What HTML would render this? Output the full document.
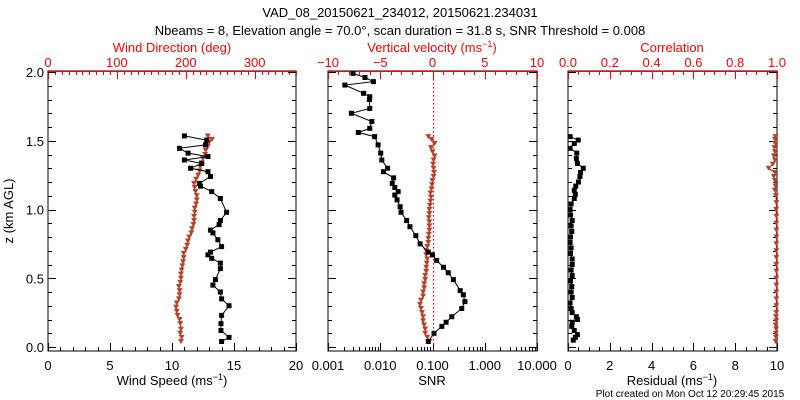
<!DOCTYPE html>
<html><head><meta charset="utf-8"><style>
body{margin:0;background:#fff}
svg{display:block;font-family:"Liberation Sans",sans-serif}
</style></head><body>
<svg id="c" width="800" height="400" viewBox="0 0 800 400">
<text x="400" y="17" text-anchor="middle" font-size="13">VAD_08_20150621_234012, 20150621.234031</text>
<text x="400" y="35" text-anchor="middle" font-size="13">Nbeams = 8, Elevation angle = 70.0°, scan duration = 31.8 s, SNR Threshold = 0.008</text>
<text x="690" y="397" text-anchor="middle" font-size="10">Plot created on Mon Oct 12 20:29:45 2015</text>
</svg>
<script>
// Panel 1: wind speed (black) and wind direction (red)
const speedZ=[0.04,0.07,0.12,0.17,0.23,0.30,0.35,0.40,0.45,0.49,0.57,0.61,0.645,0.67,0.69,0.73,0.78,0.83,0.85,0.89,0.92,0.98,1.08,1.13,1.17,1.19,1.24,1.275,1.30,1.335,1.36,1.385,1.41,1.445,1.47,1.505,1.535];
const speedVals=[14.0,14.6,13.95,13.95,14.0,14.6,14.0,13.9,13.3,13.5,13.9,13.9,13.2,12.9,13.1,14.0,13.7,13.3,13.1,13.8,13.9,14.4,13.9,13.2,12.3,12.2,13.1,12.9,11.5,12.4,11.0,12.9,11.3,10.6,12.7,12.8,11.0];
const dirZ=[0.04,0.07,0.10,0.13,0.17,0.20,0.23,0.26,0.29,0.32,0.35,0.38,0.41,0.44,0.47,0.50,0.53,0.56,0.59,0.62,0.65,0.68,0.71,0.74,0.77,0.80,0.83,0.86,0.89,0.92,0.95,0.98,1.01,1.04,1.07,1.10,1.13,1.16,1.19,1.22,1.25,1.28,1.31,1.34,1.37,1.40,1.43,1.46,1.49,1.51,1.535];
const dirVals=[193,194,192,193,192,191,188,187,186,187,190,191,191,190,192,193,193,194,195,196,197,197,200,202,203,205,208,209,211,212,212,213,213,215,216,216,214,213,212,215,218,220,221,223,225,228,229,232,234,238,232];
// Panel 2: SNR (black) and vertical velocity (red)
const snrZ=[0.04,0.10,0.15,0.18,0.22,0.28,0.33,0.38,0.41,0.49,0.54,0.58,0.63,0.67,0.69,0.75,0.81,0.875,0.92,0.98,1.02,1.07,1.105,1.13,1.16,1.19,1.23,1.275,1.30,1.36,1.41,1.47,1.53,1.56,1.59,1.64,1.70,1.735,1.80,1.82,1.845,1.905,1.93,1.96,1.99];
const snrVals=[0.083,0.107,0.151,0.182,0.234,0.363,0.417,0.389,0.339,0.251,0.200,0.162,0.120,0.100,0.083,0.058,0.048,0.037,0.032,0.025,0.024,0.021,0.019,0.022,0.019,0.017,0.018,0.0115,0.0138,0.0107,0.0102,0.0091,0.0078,0.0038,0.0063,0.0069,0.0028,0.0063,0.0062,0.0063,0.0048,0.0021,0.0074,0.0051,0.0030];
const wZ=[0.04,0.07,0.10,0.13,0.16,0.19,0.22,0.25,0.28,0.31,0.34,0.37,0.40,0.43,0.46,0.49,0.52,0.55,0.58,0.61,0.64,0.67,0.70,0.73,0.76,0.79,0.82,0.85,0.88,0.91,0.94,0.97,1.00,1.03,1.06,1.09,1.12,1.15,1.18,1.21,1.24,1.27,1.30,1.33,1.36,1.39,1.42,1.45,1.48,1.51,1.53];
const wVals=[-0.3,-0.5,-0.7,-0.7,-0.8,-0.9,-0.9,-1.0,-1.1,-1.2,-1.1,-0.9,-0.9,-0.8,-0.8,-0.7,-0.7,-0.6,-0.6,-0.55,-0.5,-0.6,-0.6,-0.5,-0.4,-0.4,-0.35,-0.3,-0.3,-0.3,-0.35,-0.3,-0.3,-0.25,-0.2,-0.15,-0.2,-0.1,-0.05,0.0,0.1,0.15,0.1,0.05,0.1,0.2,0.0,-0.15,0.2,-0.1,-0.4];
// Panel 3: residual (black) and correlation (red)
const resZ=[0.05,0.07,0.09,0.12,0.15,0.18,0.20,0.22,0.25,0.28,0.32,0.36,0.40,0.44,0.48,0.52,0.56,0.60,0.64,0.68,0.72,0.76,0.80,0.84,0.88,0.92,0.96,1.00,1.04,1.08,1.11,1.14,1.17,1.20,1.24,1.27,1.30,1.335,1.37,1.41,1.445,1.48,1.505,1.53];
const resVals=[0.25,0.35,0.45,0.3,0.18,0.2,0.45,0.4,0.2,0.15,0.1,0.2,0.15,0.18,0.12,0.2,0.15,0.2,0.2,0.12,0.15,0.1,0.12,0.18,0.15,0.2,0.12,0.1,0.15,0.3,0.35,0.3,0.37,0.5,0.57,0.6,0.73,0.45,0.4,0.42,0.1,0.3,0.49,0.1];
const corZ=[0.04,0.07,0.10,0.13,0.16,0.19,0.22,0.25,0.30,0.35,0.40,0.45,0.50,0.55,0.60,0.65,0.70,0.75,0.80,0.85,0.90,0.95,1.00,1.05,1.10,1.14,1.17,1.21,1.24,1.27,1.30,1.33,1.36,1.39,1.42,1.45,1.48,1.51,1.53];
const corVals=[0.993,0.995,0.994,0.996,0.993,0.996,0.995,0.997,0.997,0.997,0.997,0.997,0.997,0.997,0.997,0.997,0.997,0.997,0.997,0.997,0.997,0.997,0.996,0.997,0.995,0.99,0.993,0.99,0.985,0.99,0.96,0.98,0.99,0.985,0.99,0.988,0.992,0.99,0.993];

const S=document.getElementById('c'),NS='http://www.w3.org/2000/svg',RED='#ff0000',MK='#b5412c';
function mk(t,a,p){const e=document.createElementNS(NS,t);for(const k in a)e.setAttribute(k,a[k]);(p||S).appendChild(e);return e;}
const TOP=71,BOT=351;
const yZ=z=>347-137.5*z;
const P1={x0:48,x1:296},P2={x0:328,x1:537},P3={x0:568,x1:777};
const lin=(p,a,b)=>v=>p.x0+(v-a)/(b-a)*(p.x1-p.x0);
const xSpd=lin(P1,0,20),xDir=lin(P1,0,360),xW=lin(P2,-10,10),xRes=lin(P3,0,10),xCor=lin(P3,0,1);
const xSnr=v=>P2.x0+(Math.log10(v)+3)/4*(P2.x1-P2.x0);

function frame(p,name){
  const r=mk('rect',{x:p.x0,y:TOP,width:p.x1-p.x0,height:BOT-TOP,fill:'none',stroke:'#000','stroke-width':1});
  
  
}
function ticks(fn,vals,side,len,col,name){
  const g=mk('g',{stroke:col,'stroke-width':1});
  
  
  vals.forEach(v=>{const x=Math.round(fn(v))+0.5;
    if(side==='b')mk('line',{x1:x,x2:x,y1:BOT,y2:BOT-len},g);
    else mk('line',{x1:x,x2:x,y1:TOP,y2:TOP+len},g);});
}
function labels(fn,vals,txt,y,col,name){
  const g=mk('g',{fill:col,'font-size':13,'text-anchor':'middle'});
  
  
  vals.forEach((v,i)=>{const t=mk('text',{x:fn(v),y:y},g);t.textContent=txt[i];});
}
function range(a,b,s){const r=[];for(let v=a;v<=b+1e-9;v+=s)r.push(+v.toFixed(4));return r;}
function yTicks(p,side,name){
  const g=mk('g',{stroke:'#000','stroke-width':1});
  
  
  range(0,2,0.1).forEach(z=>{const y=Math.round(yZ(z))+0.5;const L=(Math.round(z*10)%5===0)?8:4;
    if(side==='l')mk('line',{x1:p.x0,x2:p.x0+L,y1:y,y2:y},g);else mk('line',{x1:p.x1,x2:p.x1-L,y1:y,y2:y},g);});
}
function title(x,y,html,col,name,rot){
  const t=mk('text',{x:x,y:y,'font-size':13,'text-anchor':'middle',fill:col});
  if(rot)t.setAttribute('transform','rotate(-90 '+x+' '+y+')');
  t.innerHTML=html;
  
  
}
function series(xf,xs,zs,col,mcol,name,shape){
  const g=mk('g',{});
  
  
  const pts=xs.map((v,i)=>[xf(v),yZ(zs[i])]);
  mk('polyline',{points:pts.map(p=>p[0].toFixed(1)+','+p[1].toFixed(1)).join(' '),fill:'none',stroke:col,'stroke-width':1},g);
  pts.forEach(p=>{
    let m;
    if(shape==='tri')m=mk('path',{d:`M${p[0]-3},${p[1]-2.5}h6l-3,5z`,fill:mcol},g);
    else m=mk('rect',{x:p[0]-2.5,y:p[1]-2.5,width:5,height:5,fill:mcol},g);
    
    
  });
}

// Panel 1
frame(P1,'wind-panel');
ticks(xSpd,range(0,20,1),'b',4,'#000','wind-speed-minor-ticks');
ticks(xSpd,range(0,20,5),'b',8,'#000','wind-speed-major-ticks');
ticks(xDir,range(0,360,10),'t',4,RED,'wind-dir-minor-ticks');
ticks(xDir,range(0,300,100),'t',8,RED,'wind-dir-major-ticks');
mk('line',{x1:P1.x0,x2:P1.x1,y1:TOP+0.5,y2:TOP+0.5,stroke:RED});
labels(xSpd,[0,5,10,15,20],['0','5','10','15','20'],370,'#000','wind-speed-tick-labels');
labels(xDir,[0,100,200,300],['0','100','200','300'],67,RED,'wind-dir-tick-labels');
title(172,385,'Wind Speed (ms<tspan dy="-5" font-size="9">−1</tspan><tspan dy="5">)</tspan>','#000','wind-speed-axis-title');
title(172,52,'Wind Direction (deg)',RED,'wind-dir-axis-title');
yTicks(P1,'l','z-left-ticks');yTicks(P1,'r','z-right-ticks');
const zl=mk('g',{'font-size':13,'text-anchor':'end'});


[0,0.5,1,1.5,2].forEach(z=>{const t=mk('text',{x:44,y:yZ(z)+5},zl);t.textContent=z.toFixed(1);});
title(13,211,'z (km AGL)','#000','z-axis-title',true);
series(xDir,dirVals,dirZ,RED,MK,'wind-direction-series','tri');
series(xSpd,speedVals,speedZ,'#000','#000','wind-speed-series','sq');

// Panel 2
frame(P2,'snr-panel');
const lt=[];for(let d=-3;d<1;d++)for(let k=1;k<10;k++)lt.push(k*Math.pow(10,d));lt.push(10);
ticks(xSnr,lt,'b',4,'#000','snr-minor-ticks');
ticks(xSnr,[0.001,0.01,0.1,1,10],'b',8,'#000','snr-major-ticks');
ticks(xW,range(-10,10,1),'t',4,RED,'w-minor-ticks');
ticks(xW,range(-10,10,5),'t',8,RED,'w-major-ticks');
mk('line',{x1:P2.x0,x2:P2.x1,y1:TOP+0.5,y2:TOP+0.5,stroke:RED});
labels(xSnr,[0.001,0.01,0.1,1,10],['0.001','0.010','0.100','1.000','10.000'],370,'#000','snr-tick-labels');
labels(xW,[-10,-5,0,5,10],['−10','−5','0','5','10'],67,RED,'w-tick-labels');
title(432,385,'SNR','#000','snr-axis-title');
title(432,52,'Vertical velocity (ms<tspan dy="-5" font-size="9">−1</tspan><tspan dy="5">)</tspan>',RED,'w-axis-title');
yTicks(P2,'l','p2-left-ticks');yTicks(P2,'r','p2-right-ticks');
const zx=Math.round(xW(0))+0.5;
const zl0=mk('line',{x1:zx,x2:zx,y1:TOP,y2:BOT,stroke:'#ff0000','stroke-width':1.2,'stroke-dasharray':'1.5,2.5'});


series(xW,wVals,wZ,RED,MK,'vertical-velocity-series','tri');
series(xSnr,snrVals,snrZ,'#000','#000','snr-series','sq');

// Panel 3
frame(P3,'residual-panel');
ticks(xRes,range(0,10,0.5),'b',4,'#000','residual-minor-ticks');
ticks(xRes,range(0,10,2),'b',8,'#000','residual-major-ticks');
ticks(xCor,range(0,1,0.05),'t',4,RED,'corr-minor-ticks');
ticks(xCor,range(0,1,0.2),'t',8,RED,'corr-major-ticks');
mk('line',{x1:P3.x0,x2:P3.x1,y1:TOP+0.5,y2:TOP+0.5,stroke:RED});
labels(xRes,[0,2,4,6,8,10],['0','2','4','6','8','10'],370,'#000','residual-tick-labels');
labels(xCor,[0,0.2,0.4,0.6,0.8,1],['0.0','0.2','0.4','0.6','0.8','1.0'],67,RED,'corr-tick-labels');
title(672,385,'Residual (ms<tspan dy="-5" font-size="9">−1</tspan><tspan dy="5">)</tspan>','#000','residual-axis-title');
title(672,52,'Correlation',RED,'corr-axis-title');
yTicks(P3,'l','p3-left-ticks');yTicks(P3,'r','p3-right-ticks');
series(xCor,corVals,corZ,RED,MK,'correlation-series','tri');
series(xRes,resVals,resZ,'#000','#000','residual-series','sq');
</script>
</body></html>
